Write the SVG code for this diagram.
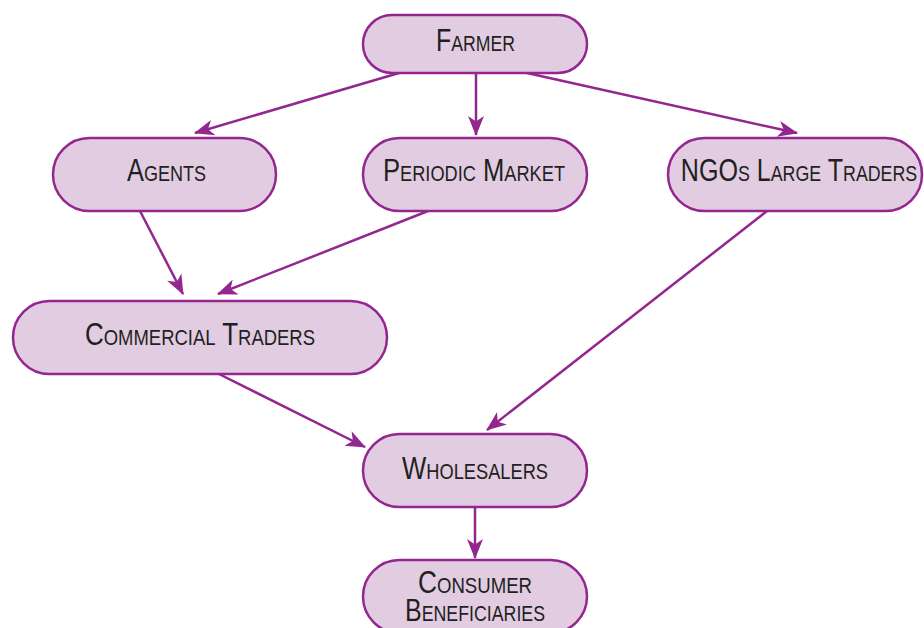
<svg xmlns="http://www.w3.org/2000/svg" width="924" height="628" viewBox="0 0 924 628">
<defs>
<marker id="arr" markerUnits="userSpaceOnUse" markerWidth="24" markerHeight="20" viewBox="-21 -10 24 20" refX="0" refY="0" orient="auto">
<path d="M1,0 L-19,-8 L-13.5,0 L-19,8 Z" fill="#93278f"/>
</marker>
<style>
.box{fill:#e1cce2;stroke:#93278f;stroke-width:2.5}
.edge{fill:none;stroke:#93278f;stroke-width:2.5;marker-end:url(#arr)}
.t{font-family:"Liberation Sans","DejaVu Sans",sans-serif;font-size:31px;font-variant:small-caps;fill:#231f20;text-anchor:middle}
</style>
</defs>
<rect width="924" height="628" fill="#ffffff"/>
<g id="connectors">
<line class="edge" x1="399" y1="73" x2="195" y2="133"/>
<line class="edge" x1="476" y1="73" x2="476" y2="135"/>
<line class="edge" x1="527" y1="73" x2="797" y2="133"/>
<line class="edge" x1="140" y1="211" x2="183" y2="294"/>
<line class="edge" x1="428" y1="211" x2="218" y2="294"/>
<line class="edge" x1="217" y1="373" x2="365" y2="447"/>
<line class="edge" x1="767" y1="211" x2="487" y2="430"/>
<line class="edge" x1="475" y1="507" x2="475" y2="558"/>
</g>
<g id="farmer">
<rect class="box" x="363" y="15" width="224" height="58" rx="29"/>
<text class="t" x="475.5" y="51" textLength="79" lengthAdjust="spacingAndGlyphs">Farmer</text>
</g>
<g id="agents">
<rect class="box" x="53" y="138" width="223" height="73" rx="36.5"/>
<text class="t" x="166.5" y="181" textLength="79" lengthAdjust="spacingAndGlyphs">Agents</text>
</g>
<g id="periodic-market">
<rect class="box" x="363" y="138" width="224" height="73" rx="36.5"/>
<text class="t" x="474" y="181" textLength="182" lengthAdjust="spacingAndGlyphs">Periodic Market</text>
</g>
<g id="ngos-large-traders">
<rect class="box" x="668" y="138" width="254" height="73" rx="36.5"/>
<text class="t" x="0" y="0" transform="translate(799,181) scale(0.81,1)">NGOs Large Traders</text>
</g>
<g id="commercial-traders">
<rect class="box" x="13" y="301" width="374" height="73" rx="36.5"/>
<text class="t" x="200" y="345" textLength="230" lengthAdjust="spacingAndGlyphs">Commercial Traders</text>
</g>
<g id="wholesalers">
<rect class="box" x="363" y="434" width="224" height="73" rx="36.5"/>
<text class="t" x="475" y="479" textLength="146" lengthAdjust="spacingAndGlyphs">Wholesalers</text>
</g>
<g id="consumer-beneficiaries">
<rect class="box" x="363" y="560" width="224" height="73" rx="36.5"/>
<text class="t"><tspan x="475" y="593" textLength="114" lengthAdjust="spacingAndGlyphs">Consumer</tspan><tspan x="475" y="621" textLength="140" lengthAdjust="spacingAndGlyphs">Beneficiaries</tspan></text>
</g>
</svg>
